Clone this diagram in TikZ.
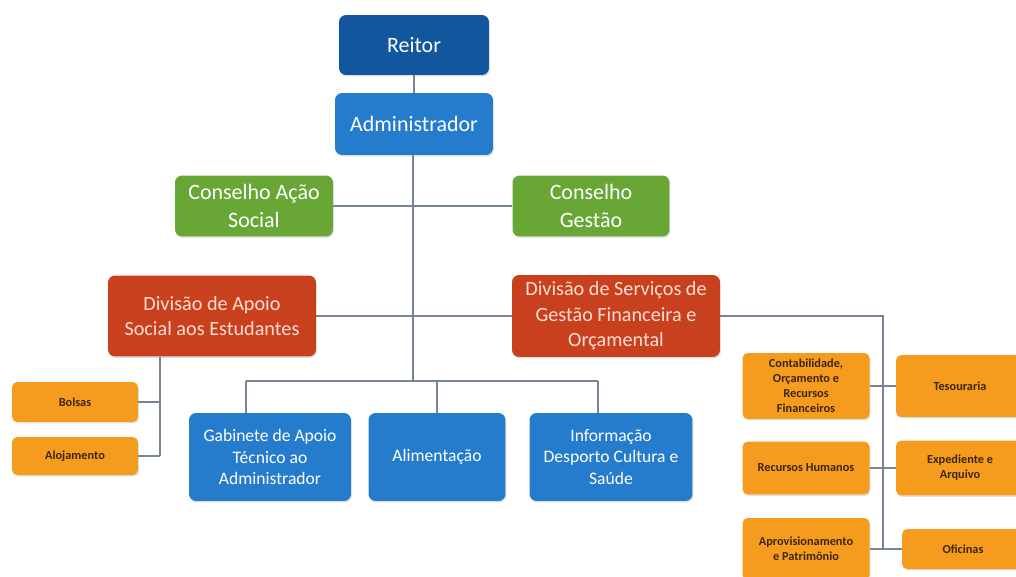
\documentclass[tikz,border=0pt]{standalone}
\usepackage{fontspec}
\setmainfont{Carlito}
\usetikzlibrary{positioning, shadows}

\definecolor{reitorblue}{RGB}{18,86,158}
\definecolor{boxblue}{RGB}{38,124,204}
\definecolor{boxgreen}{RGB}{104,166,54}
\definecolor{boxred}{RGB}{200,64,30}
\definecolor{boxorange}{RGB}{245,156,30}
\definecolor{redtext}{RGB}{255,222,212}
\definecolor{orangetext}{RGB}{60,38,14}
\definecolor{linkgray}{RGB}{118,132,148}

\begin{document}
\begin{tikzpicture}[x=0.02cm, y=-0.02cm,
    box/.style={rectangle, rounded corners=4pt, align=center, inner sep=1pt,
        drop shadow={opacity=0.25, shadow xshift=0.5pt, shadow yshift=-0.8pt}},
    topbox/.style={box, fill=reitorblue, text=white, font=\fontsize{12.5}{15.5}\selectfont},
    bluebox/.style={box, fill=boxblue, text=white, font=\fontsize{12.5}{15.5}\selectfont},
    greenbox/.style={box, fill=boxgreen, text=white, font=\fontsize{12.5}{15.5}\selectfont},
    redbox/.style={box, fill=boxred, text=redtext, font=\fontsize{11.5}{14.5}\selectfont},
    lowbox/.style={box, fill=boxblue, text=white, font=\fontsize{10}{12}\selectfont,
        minimum height=1.76cm},
    orangebox/.style={box, fill=boxorange, text=orangetext, rounded corners=3pt,
        font=\fontsize{7}{8.5}\selectfont\bfseries},
    link/.style={draw=linkgray, line width=1.2pt}
  ]
  \useasboundingbox (0,0) rectangle (1016,577);

  % top of the chart
  \node[topbox, minimum width=3cm, minimum height=1.2cm] (reitor) at (414,45) {Reitor};
  \node[bluebox, minimum width=3.16cm, minimum height=1.24cm] (admin) at (414,124) {Administrador};
  \node[greenbox, minimum width=3.16cm, minimum height=1.22cm] (cacao) at (254,206) {Conselho Ação\\Social};
  \node[greenbox, minimum width=3.14cm, minimum height=1.22cm] (cgestao) at (591,206) {Conselho\\Gestão};

  % divisions
  \node[redbox, minimum width=4.16cm, minimum height=1.62cm] (dapoio) at (212,316) {Divisão de Apoio\\Social aos Estudantes};
  \node[redbox, minimum width=4.16cm, minimum height=1.64cm] (dserv) at (616,316) {Divisão de Serviços de\\Gestão Financeira e\\Orçamental};

  % services under the administrator
  \node[lowbox, minimum width=3.24cm] (gabinete) at (270,457) {Gabinete de Apoio\\Técnico ao\\Administrador};
  \node[lowbox, minimum width=2.74cm] (alim) at (437,457) {Alimentação};
  \node[lowbox, minimum width=3.26cm] (info) at (611,457) {Informação\\Desporto Cultura e\\Saúde};

  % left branch
  \node[orangebox, minimum width=2.52cm, minimum height=0.8cm] (bolsas) at (75,402) {Bolsas};
  \node[orangebox, minimum width=2.52cm, minimum height=0.76cm] (aloj) at (75,456) {Alojamento};

  % right branch
  \node[orangebox, minimum width=2.54cm, minimum height=1.32cm] (contab) at (806,386) {Contabilidade,\\Orçamento e\\Recursos\\Financeiros};
  \node[orangebox, minimum width=2.56cm, minimum height=1.24cm] (tesour) at (960,386) {Tesouraria};
  \node[orangebox, minimum width=2.54cm, minimum height=1.06cm] (rechum) at (806,468) {Recursos Humanos};
  \node[orangebox, minimum width=2.56cm, minimum height=1.1cm] (exped) at (960,468) {Expediente e\\Arquivo};
  \node[orangebox, minimum width=2.54cm, minimum height=1.24cm] (aprov) at (806,549) {Aprovisionamento\\e Patrimônio};
  \node[orangebox, minimum width=2.44cm, minimum height=0.8cm] (ofic) at (963,549) {Oficinas};

  \coordinate (trunk) at (413,381);
  \coordinate (lowl) at (246,381);
  \coordinate (lowr) at (598,381);
  \coordinate (leftv) at (160,456);
  \coordinate (rightv) at (883,316);
  \coordinate (rightb) at (883,549);

  % connectors
  \draw[link] (reitor) -- (admin);
  \draw[link] (admin.south -| trunk) -- (trunk);
  \draw[link] (cacao) -- (cgestao);
  \draw[link] (dapoio) -- (dserv);
  \draw[link] (lowl) -- (lowr);
  \draw[link] (lowl) -- (lowl |- gabinete.north);
  \draw[link] (alim.north) -- (alim.north |- trunk);
  \draw[link] (lowr) -- (lowr |- info.north);
  \draw[link] (dapoio.south -| leftv) -- (leftv);
  \draw[link] (bolsas) -- (bolsas -| leftv);
  \draw[link] (aloj) -- (leftv);
  \draw[link] (dserv) -- (rightv) -- (rightb);
  \draw[link] (contab) -- (tesour);
  \draw[link] (rechum) -- (exped);
  \draw[link] (aprov) -- (ofic);
\end{tikzpicture}
\end{document}
